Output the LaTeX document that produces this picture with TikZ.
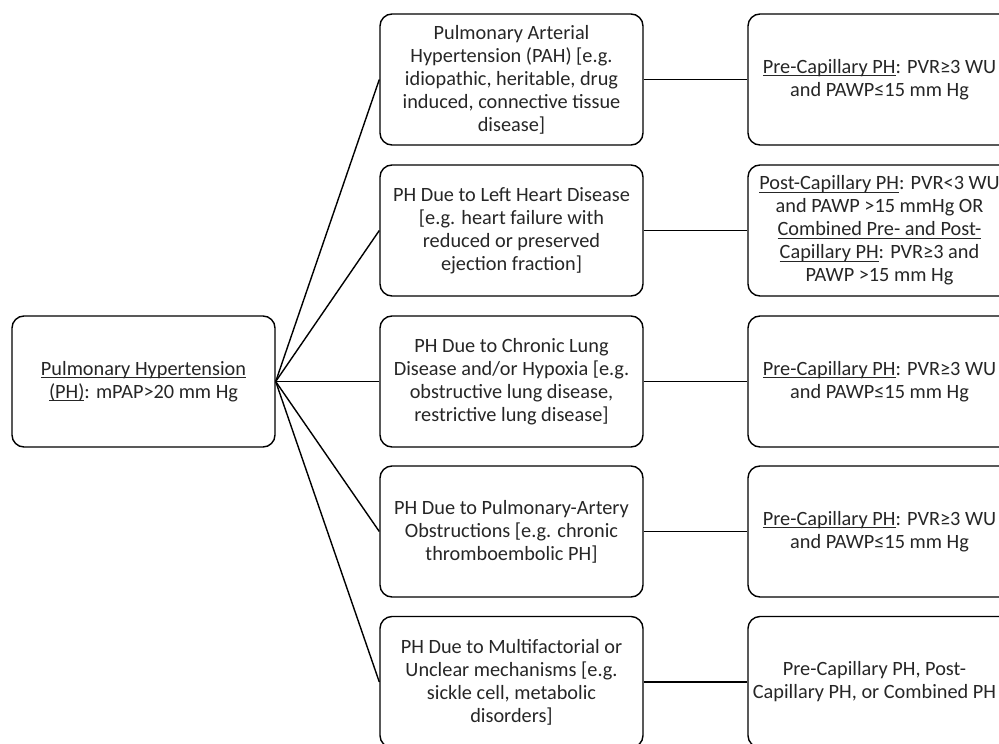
\documentclass[tikz,border=0pt]{standalone}
\usepackage{fontspec}
\setmainfont{Carlito}
\usepackage{tikz}
\newcommand\phul[1]{\setbox0\hbox{#1}\rlap{\rule[-2.8pt]{\wd0}{1.1pt}}\box0}
\tikzset{
  phbox/.style={draw, line width=1.4pt, rounded corners=12pt, minimum width=263pt, minimum height=131pt, inner sep=0pt, align=center, text=black!85, font=\fontsize{20.3}{23}\selectfont},
  phline/.style={line width=1.4pt}
}

\begin{document}
\begin{tikzpicture}[x=1pt,y=1pt,yscale=-1,xscale=1]
\clip (0,0) rectangle (999,744);

% Root box
\node [phbox] (root) at (143.5,381.5) {\phul{Pulmonary Hypertension}\\\phul{(PH)}: mPAP>20 mm Hg};

% Groups
\node [phbox] (pah) at (511.5,79.5) {Pulmonary Arterial\\Hypertension (PAH) [e.g.\\idiopathic, heritable, drug\\induced, connective tissue\\disease]};
\node [phbox] (lhd) at (511.5,230.5) {PH Due to Left Heart Disease\\{[e.g.} heart failure with\\reduced or preserved\\ejection fraction]};
\node [phbox] (lung) at (511.5,381.5) {PH Due to Chronic Lung\\Disease and/or Hypoxia [e.g.\\obstructive lung disease,\\restrictive lung disease]};
\node [phbox] (cteph) at (511.5,531.5) {PH Due to Pulmonary-Artery\\Obstructions [e.g. chronic\\thromboembolic PH]};
\node [phbox] (multi) at (511.5,682) {PH Due to Multifactorial or\\Unclear mechanisms [e.g.\\sickle cell, metabolic\\disorders]};

% Hemodynamics
\node [phbox] (pahr) at (879.5,79.5) {\phul{Pre-Capillary PH}: PVR≥3 WU\\and PAWP≤15 mm Hg};
\node [phbox] (lhdr) at (879.5,230.5) {\phul{Post-Capillary PH}: PVR<3 WU\\and PAWP >15 mmHg OR\\\phul{Combined Pre- and Post-}\\\phul{Capillary PH}: PVR≥3 and\\PAWP >15 mm Hg};
\node [phbox] (lungr) at (879.5,381.5) {\phul{Pre-Capillary PH}: PVR≥3 WU\\and PAWP≤15 mm Hg};
\node [phbox] (ctephr) at (879.5,531.5) {\phul{Pre-Capillary PH}: PVR≥3 WU\\and PAWP≤15 mm Hg};
\node [phbox] (multir) at (879.5,682) {Pre-Capillary PH, Post-\hspace*{10pt}\\Capillary PH, or Combined PH\hspace*{10pt}};

% Connectors
\foreach \g in {pah,lhd,lung,cteph,multi}{
  \draw [phline] (root.east) -- (\g.west);
  \draw [phline] (\g.east) -- (\g r.west);
}

\end{tikzpicture}
\end{document}
